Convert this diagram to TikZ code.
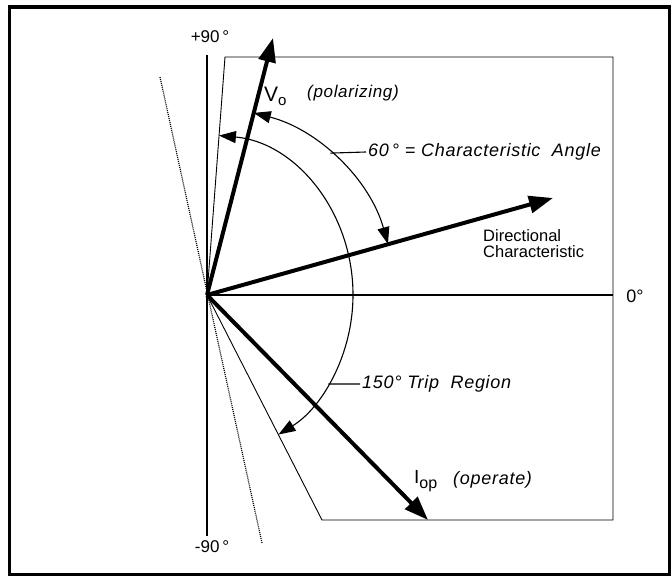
\documentclass[tikz,border=0pt]{standalone}
\usepackage{fontspec}
\setmainfont{Liberation Sans}
\newfontfamily\spacedfont[LetterSpace=4]{Liberation Sans}
\usetikzlibrary{positioning, arrows.meta}

\begin{document}
\begin{tikzpicture}[x=1pt, y=1pt,
            vector/.style={line width=4pt, -{Triangle[length=24pt, width=17pt]}},
            thinline/.style={line width=1.1pt},
            boxline/.style={line width=0.9pt},
            sweep/.style={line width=1.1pt, {Triangle[length=17pt, width=12pt]}-{Triangle[length=17pt, width=12pt]}},
            lbl/.style={inner sep=0pt, font=\fontsize{16}{16}\selectfont},
            ilbl/.style={inner sep=0pt, font=\fontsize{18}{18}\selectfont\spacedfont\itshape}]

        \useasboundingbox (0,0) rectangle (671,578);
        \draw[line width=3.5pt] (9.5,3.5) rectangle (669.5,571);

        % axes
        \coordinate (O) at (207,283);
        \coordinate (top90) at (207,523);
        \coordinate (bot90) at (207,42);
        \coordinate (zero) at (613,283);
        \draw[thinline] (top90) -- (bot90);
        \draw[thinline] (O) -- (zero);

        % trip region boundary
        \coordinate (tl) at (225,521);
        \coordinate (tr) at (613,521);
        \coordinate (br) at (613,58);
        \coordinate (bl) at (322,58);
        \draw[boxline] (O) -- (tl) -- (tr) -- (br) -- (bl) -- cycle;

        % zero torque line
        \coordinate (zt1) at (160,501);
        \coordinate (zt2) at (262,35);
        \draw[line width=1.2pt, dash pattern=on 1pt off 1pt] (zt1) -- (zt2);

        % vectors
        \coordinate (vtip) at (273,540);
        \coordinate (dtip) at (553,380);
        \coordinate (itip) at (428,58);
        \draw[vector] (O) -- (vtip);
        \draw[vector] (O) -- (dtip);
        \draw[vector] (O) -- (itip);

        % arcs
        \draw[sweep] ([shift={(15.7:188)}]O) arc[start angle=15.7, end angle=75.6, radius=188];
        \draw[sweep] ([shift={(85.3:146 and 160)}]O) arc[start angle=85.3, end angle=-60.7, x radius=146, y radius=160];

        % labels
        \node[lbl, font=\fontsize{17}{17}\selectfont] (p90) at (210,541) {+90\,°};
        \node[lbl, font=\fontsize{17}{17}\selectfont] (m90) at (212,31) {-90\,°};
        \node[lbl, font=\fontsize{18}{18}\selectfont] (zerodeg) at (635,282) {0°};
        \node[lbl, anchor=west] (vo) at (264,482) {\fontsize{21}{21}\selectfont V\raisebox{-4pt}{\fontsize{15}{15}\selectfont o}};
        \node[ilbl, anchor=west, font=\fontsize{17}{17}\selectfont\spacedfont\itshape] (pol) at (307,485) {(polarizing)};
        \node[ilbl, anchor=west] (anglbl) at (368,426) {60\,° = Characteristic\ \ Angle};
        \node[lbl, anchor=north west, align=left, font=\fontsize{16.5}{16}\selectfont] (dirlbl) at (483,349) {Directional\\Characteristic};
        \node[ilbl, anchor=west] (trip) at (362,194) {150° Trip\ \ Region};
        \node[lbl, anchor=west] (iop) at (414,97) {\fontsize{19}{19}\selectfont I\raisebox{-5pt}{\fontsize{16}{16}\selectfont op}};
        \node[ilbl, anchor=west, font=\fontsize{18}{18}\selectfont\spacedfont\itshape] (oper) at (453,98) {(operate)};

        % leaders
        \draw[thinline] ([shift={(49:188)}]O) -- ([xshift=-2pt]anglbl.west);
        \draw[thinline] ([shift={(-33.8:146 and 160)}]O) -- ([xshift=-2pt]trip.west);
    \end{tikzpicture}
\end{document}
